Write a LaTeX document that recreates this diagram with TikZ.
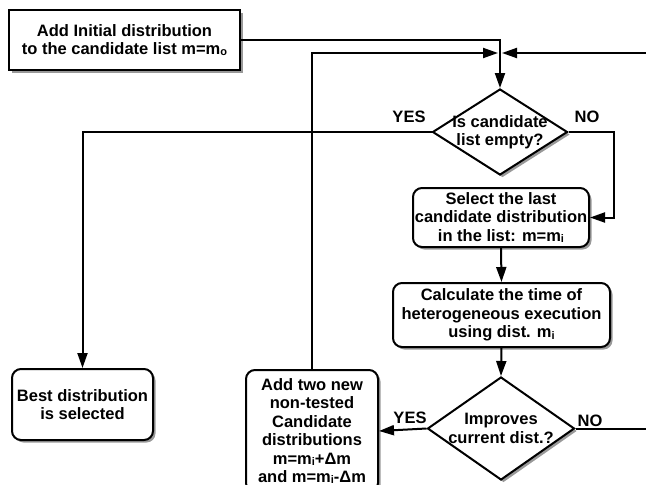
\documentclass[tikz,border=0pt]{standalone}
\usepackage{fontspec}
\setmainfont{Liberation Sans}
\usetikzlibrary{shapes.geometric}
\usetikzlibrary{arrows.meta}
\usetikzlibrary{shadows}
\newcommand{\idx}[1]{\raisebox{-0.15ex}{\fontsize{11}{11}\selectfont #1}}
\tikzset{every node/.style={font=\fontsize{16.5}{18.5}\selectfont\bfseries}}
\tikzset{shade/.style={drop shadow={shadow xshift=2.5pt, shadow yshift=-2.5pt, fill=black!50, opacity=.8}}}
\tikzset{block/.style={rectangle, draw, line width=2pt, fill=white, align=center, inner sep=1pt, shade}}
\tikzset{rblock/.style={block, rounded corners=9pt}}
\tikzset{decision/.style={diamond, draw, line width=2pt, fill=white, inner sep=0pt, shade}}
\tikzset{flow/.style={line width=2pt, -{Triangle[length=15pt, width=10pt]}}}
\tikzset{wire/.style={line width=2pt}}

\begin{document}
\begin{tikzpicture}[x=1pt,y=-1pt]
  \useasboundingbox (0,0) rectangle (646,485);
  % boxes
  \node[block, minimum width=231, minimum height=60] (init) at (124.5,40)
    {Add Initial distribution\\to the candidate list m=m\idx{o}};
  \node[decision, minimum width=135, minimum height=86,
    label={[align=center]center:{Is candidate\\list empty?}}] (empty) at (500,132) {};
  \node[rblock, minimum width=176, minimum height=59] (select) at (501,217.5)
    {Select the last\\candidate distribution\\in the list: m=m\idx{i}};
  \node[rblock, minimum width=217, minimum height=64] (calc) at (501.5,315)
    {Calculate the time of\\heterogeneous execution\\using dist. m\idx{i}};
  \node[decision, minimum width=147, minimum height=103,
    label={[align=center]center:{Improves\\current dist.?}}] (improve) at (501,428.5) {};
  \node[rblock, minimum width=141, minimum height=71] (best) at (82.5,404.5)
    {Best distribution\\is selected};
  \node[rblock, minimum width=132, minimum height=122] (add) at (312,431)
    {Add two new\\non-tested\\Candidate\\distributions\\m=m\idx{i}+Δm\\and m=m\idx{i}-Δm};
  % labels
  \node (yes1) at (409,117) {YES};
  \node (no1) at (587,117) {NO};
  \node (yes2) at (410,418) {YES};
  \node (no2) at (590,421) {NO};
  % connectors
  \coordinate (join) at (500,53);
  \coordinate (loopin) at (646,53);
  \coordinate (noout) at (646,428.5);
  \draw[flow] (init.east) -| (empty.north);
  \draw[flow] (add.north) |- ([xshift=-2pt]join);
  \draw[flow] (loopin) -- ([xshift=2pt]join);
  \draw[flow] (empty.west) -| (best.north);
  \draw[flow] (empty.east) -- ++(45,0) |- (select.east);
  \foreach \u/\v in {select/calc, calc/improve}{
    \draw[flow] (\u.south) -- (\v.north);
  }
  \draw[flow] (improve.west) -- (add.east);
  \draw[wire] (improve.east) -- (noout);
\end{tikzpicture}
\end{document}
